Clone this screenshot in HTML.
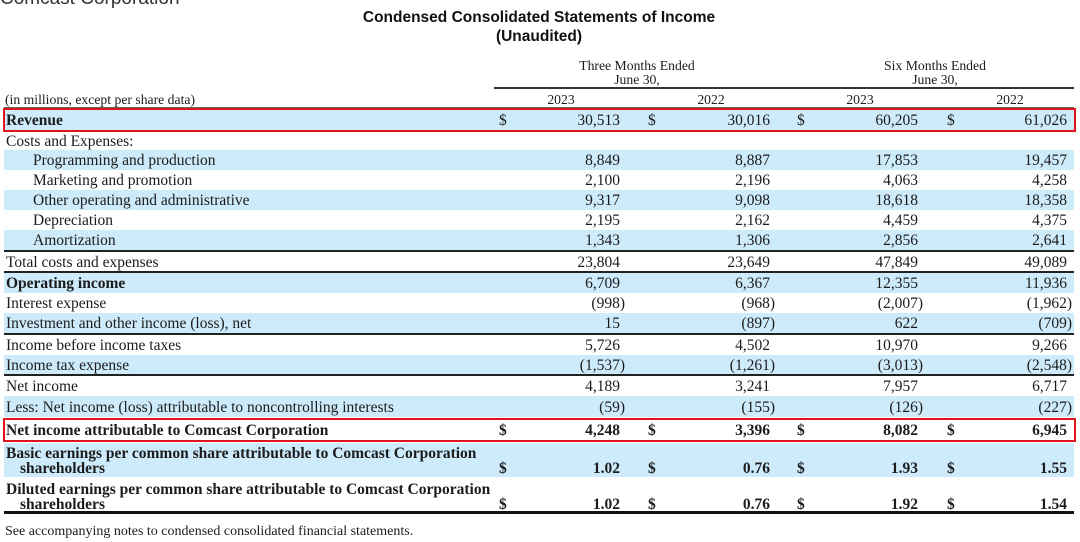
<!DOCTYPE html>
<html>
<head>
<meta charset="utf-8">
<style>
html,body{margin:0;padding:0;background:#fff;}
body{width:1080px;height:539px;position:relative;overflow:hidden;}
.a{position:absolute;}
.t{position:absolute;white-space:nowrap;height:20px;line-height:20px;margin-top:1px;font-family:"Liberation Serif","DejaVu Serif",serif;font-size:15.5px;color:#1c1c1c;}
.h{font-size:13.7px;}
.b{font-weight:bold;}
.bg{position:absolute;left:4px;width:1070px;background:#cdebfb;}
.ln{position:absolute;left:4px;width:1070px;background:#222;}
.c1{right:460px}.c2{right:310px}.c3{right:162px}.c4{right:13px}
.n1{right:455px}.n2{right:305px}.n3{right:157px}.n4{right:8px}
.d1{left:499px}.d2{left:648px}.d3{left:797px}.d4{left:947px}
.L{left:6px}.I{left:33px}.S{left:20px}
.red{position:absolute;left:3px;width:1073px;border:2px solid #e0141e;box-sizing:border-box;}
</style>
</head>
<body>
<div class="a" style="left:0;top:-11px;font-family:'Liberation Sans',sans-serif;font-size:19px;line-height:19px;color:#333;white-space:nowrap;">Comcast Corporation</div>
<div class="a" style="left:0;width:1078px;top:8px;text-align:center;font-family:'Liberation Sans',sans-serif;font-weight:bold;font-size:15.5px;line-height:19px;color:#111;">Condensed Consolidated Statements of Income</div>
<div class="a" style="left:0;width:1078px;top:27px;text-align:center;font-family:'Liberation Sans',sans-serif;font-weight:bold;font-size:15.5px;line-height:19px;color:#111;">(Unaudited)</div>

<div class="t h" style="left:537px;width:200px;text-align:center;top:55px;">Three Months Ended</div>
<div class="t h" style="left:537px;width:200px;text-align:center;top:69px;">June 30,</div>
<div class="t h" style="left:835px;width:200px;text-align:center;top:55px;">Six Months Ended</div>
<div class="t h" style="left:835px;width:200px;text-align:center;top:69px;">June 30,</div>
<div class="a" style="left:494px;width:580px;top:87px;height:2px;background:#333;"></div>
<div class="t h" style="left:511px;width:100px;text-align:center;top:89px;">2023</div>
<div class="t h" style="left:661px;width:100px;text-align:center;top:89px;">2022</div>
<div class="t h" style="left:810px;width:100px;text-align:center;top:89px;">2023</div>
<div class="t h" style="left:960px;width:100px;text-align:center;top:89px;">2022</div>
<div class="t h L" style="left:5px;top:89px;">(in millions, except per share data)</div>

<!-- backgrounds -->
<div class="a" style="left:4px;width:1070px;top:107px;height:1px;background:#666;"></div>
<div class="red" style="top:108px;height:24px;background:#cdebfb;"></div>
<div class="bg" style="top:150px;height:20px;"></div>
<div class="bg" style="top:190px;height:20px;"></div>
<div class="bg" style="top:230px;height:20px;"></div>
<div class="bg" style="top:273px;height:20px;"></div>
<div class="bg" style="top:313px;height:20px;"></div>
<div class="bg" style="top:355px;height:19px;"></div>
<div class="bg" style="top:396px;height:21px;"></div>
<div class="bg" style="top:443px;height:34px;"></div>

<!-- lines -->
<div class="ln" style="top:250px;height:2px;"></div>
<div class="ln" style="top:271px;height:2px;"></div>
<div class="ln" style="top:333px;height:2px;"></div>
<div class="ln" style="top:374px;height:2px;"></div>
<div class="a" style="left:4px;width:1070px;top:441px;height:1px;background:#666;"></div>
<div class="ln" style="top:511px;height:3px;background:#111;"></div>
<div class="red" style="top:418px;height:24px;"></div>

<!-- Revenue -->
<div class="t L b" style="top:110px;">Revenue</div>
<div class="t d1" style="top:110px;">$</div><div class="t c1" style="top:110px;">30,513</div>
<div class="t d2" style="top:110px;">$</div><div class="t c2" style="top:110px;">30,016</div>
<div class="t d3" style="top:110px;">$</div><div class="t c3" style="top:110px;">60,205</div>
<div class="t d4" style="top:110px;">$</div><div class="t c4" style="top:110px;">61,026</div>

<div class="t L" style="top:131px;">Costs and Expenses:</div>

<div class="t I" style="top:150px;">Programming and production</div>
<div class="t c1" style="top:150px;">8,849</div><div class="t c2" style="top:150px;">8,887</div><div class="t c3" style="top:150px;">17,853</div><div class="t c4" style="top:150px;">19,457</div>

<div class="t I" style="top:170px;">Marketing and promotion</div>
<div class="t c1" style="top:170px;">2,100</div><div class="t c2" style="top:170px;">2,196</div><div class="t c3" style="top:170px;">4,063</div><div class="t c4" style="top:170px;">4,258</div>

<div class="t I" style="top:190px;">Other operating and administrative</div>
<div class="t c1" style="top:190px;">9,317</div><div class="t c2" style="top:190px;">9,098</div><div class="t c3" style="top:190px;">18,618</div><div class="t c4" style="top:190px;">18,358</div>

<div class="t I" style="top:210px;">Depreciation</div>
<div class="t c1" style="top:210px;">2,195</div><div class="t c2" style="top:210px;">2,162</div><div class="t c3" style="top:210px;">4,459</div><div class="t c4" style="top:210px;">4,375</div>

<div class="t I" style="top:230px;">Amortization</div>
<div class="t c1" style="top:230px;">1,343</div><div class="t c2" style="top:230px;">1,306</div><div class="t c3" style="top:230px;">2,856</div><div class="t c4" style="top:230px;">2,641</div>

<div class="t L" style="top:252px;">Total costs and expenses</div>
<div class="t c1" style="top:252px;">23,804</div><div class="t c2" style="top:252px;">23,649</div><div class="t c3" style="top:252px;">47,849</div><div class="t c4" style="top:252px;">49,089</div>

<div class="t L b" style="top:273px;">Operating income</div>
<div class="t c1" style="top:273px;">6,709</div><div class="t c2" style="top:273px;">6,367</div><div class="t c3" style="top:273px;">12,355</div><div class="t c4" style="top:273px;">11,936</div>

<div class="t L" style="top:293px;">Interest expense</div>
<div class="t n1" style="top:293px;">(998)</div><div class="t n2" style="top:293px;">(968)</div><div class="t n3" style="top:293px;">(2,007)</div><div class="t n4" style="top:293px;">(1,962)</div>

<div class="t L" style="top:313px;">Investment and other income (loss), net</div>
<div class="t c1" style="top:313px;">15</div><div class="t n2" style="top:313px;">(897)</div><div class="t c3" style="top:313px;">622</div><div class="t n4" style="top:313px;">(709)</div>

<div class="t L" style="top:335px;">Income before income taxes</div>
<div class="t c1" style="top:335px;">5,726</div><div class="t c2" style="top:335px;">4,502</div><div class="t c3" style="top:335px;">10,970</div><div class="t c4" style="top:335px;">9,266</div>

<div class="t L" style="top:355px;">Income tax expense</div>
<div class="t n1" style="top:355px;">(1,537)</div><div class="t n2" style="top:355px;">(1,261)</div><div class="t n3" style="top:355px;">(3,013)</div><div class="t n4" style="top:355px;">(2,548)</div>

<div class="t L" style="top:376px;">Net income</div>
<div class="t c1" style="top:376px;">4,189</div><div class="t c2" style="top:376px;">3,241</div><div class="t c3" style="top:376px;">7,957</div><div class="t c4" style="top:376px;">6,717</div>

<div class="t L" style="top:397px;">Less: Net income (loss) attributable to noncontrolling interests</div>
<div class="t n1" style="top:397px;">(59)</div><div class="t n2" style="top:397px;">(155)</div><div class="t n3" style="top:397px;">(126)</div><div class="t n4" style="top:397px;">(227)</div>

<div class="t L b" style="top:420px;">Net income attributable to Comcast Corporation</div>
<div class="t b d1" style="top:420px;">$</div><div class="t b c1" style="top:420px;">4,248</div>
<div class="t b d2" style="top:420px;">$</div><div class="t b c2" style="top:420px;">3,396</div>
<div class="t b d3" style="top:420px;">$</div><div class="t b c3" style="top:420px;">8,082</div>
<div class="t b d4" style="top:420px;">$</div><div class="t b c4" style="top:420px;">6,945</div>

<div class="t L b" style="top:443px;">Basic earnings per common share attributable to Comcast Corporation</div>
<div class="t S b" style="top:458px;">shareholders</div>
<div class="t b d1" style="top:458px;">$</div><div class="t b c1" style="top:458px;">1.02</div>
<div class="t b d2" style="top:458px;">$</div><div class="t b c2" style="top:458px;">0.76</div>
<div class="t b d3" style="top:458px;">$</div><div class="t b c3" style="top:458px;">1.93</div>
<div class="t b d4" style="top:458px;">$</div><div class="t b c4" style="top:458px;">1.55</div>

<div class="t L b" style="top:479px;">Diluted earnings per common share attributable to Comcast Corporation</div>
<div class="t S b" style="top:494px;">shareholders</div>
<div class="t b d1" style="top:494px;">$</div><div class="t b c1" style="top:494px;">1.02</div>
<div class="t b d2" style="top:494px;">$</div><div class="t b c2" style="top:494px;">0.76</div>
<div class="t b d3" style="top:494px;">$</div><div class="t b c3" style="top:494px;">1.92</div>
<div class="t b d4" style="top:494px;">$</div><div class="t b c4" style="top:494px;">1.54</div>

<div class="t" style="left:5px;top:521px;font-size:14px;">See accompanying notes to condensed consolidated financial statements.</div>
</body>
</html>
